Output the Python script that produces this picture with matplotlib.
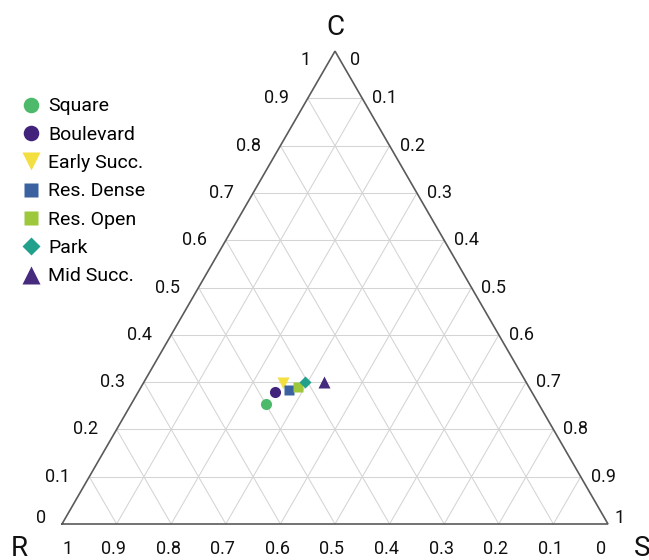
import numpy as np
import matplotlib
matplotlib.use("agg")
import matplotlib.pyplot as plt

plt.rcParams["font.family"] = ["Roboto", "DejaVu Sans"]

# ternary composition of each habitat (R, C, S)
habitats = ["Square", "Boulevard", "Early Succ.", "Res. Dense", "Res. Open", "Park", "Mid Succ."]
r_vals = [0.499, 0.469, 0.447, 0.443, 0.424, 0.405, 0.370]
c_vals = [0.254, 0.280, 0.298, 0.284, 0.289, 0.301, 0.301]
s_vals = [0.247, 0.251, 0.255, 0.273, 0.287, 0.294, 0.329]

markers = ["o", "o", "v", "s", "s", "D", "^"]
sizes = [8.0, 8.0, 9.2, 6.8, 6.8, 6.3, 8.9]
colors = ["#4db96b", "#41237b", "#f4df41", "#3a62a0", "#9dc83c", "#21a08c", "#452a7e"]

ticks = np.round(np.arange(0, 1.01, 0.1), 1)
tick_text = ["0" if t == 0 else "1" if t == 1 else "{:g}".format(t) for t in ticks]

H = np.sqrt(3) / 2
SIDE = 546.0  # triangle side in pixels


def to_xy(r, c, s):
    r, c, s = np.asarray(r), np.asarray(c), np.asarray(s)
    tot = r + c + s
    return (s + c / 2) / tot, (c * H) / tot


fig = plt.figure(figsize=(6.49, 5.6), dpi=100)
ax = fig.add_axes([0, 0, 1, 1])
ax.set_xlim(-62 / SIDE, 587 / SIDE)
ax.set_ylim(-36 / SIDE, 524 / SIDE)
ax.axis("off")

grid_kw = dict(color="#d4d4d4", lw=0.75, zorder=1)
for t in ticks[1:-1]:
    # C constant (horizontal)
    ax.plot([t / 2, 1 - t / 2], [t * H, t * H], **grid_kw)
    # S constant (parallel to left edge)
    ax.plot([t, t + (1 - t) / 2], [0, (1 - t) * H], **grid_kw)
    # R constant (parallel to right edge)
    ax.plot([1 - t, (1 - t) / 2], [0, (1 - t) * H], **grid_kw)

ax.plot([0, 1, 0.5, 0], [0, 0, H, 0], color="#5a5a5a", lw=1.2, zorder=2,
        solid_joinstyle="miter")

for name, r, c, s, m, ms, col in zip(habitats, r_vals, c_vals, s_vals, markers, sizes, colors):
    x, y = to_xy(r, c, s)
    ax.plot([x], [y], ls="none", marker=m, ms=ms, color=col, mec="none",
            label=name, zorder=3)

tick_kw = dict(textcoords="offset pixels", fontsize=13, color="#111111")
for t, lab in zip(ticks, tick_text):
    # left edge: C
    tc = np.clip(t, 0.013, 0.982)
    ax.annotate(lab, (tc / 2, tc * H), xytext=(-19, 0), ha="right", va="center", **tick_kw)
    # right edge: S
    ts = np.clip(t, 0.018, 0.987)
    ax.annotate(lab, (0.5 + ts / 2, (1 - ts) * H), xytext=(10, 0), ha="left", va="center", **tick_kw)
    # bottom edge: R (1 at left)
    tr = np.clip(1 - t, 0.015, 0.993)
    ax.annotate(lab, (tr, 0), xytext=(-3, -25), ha="center", va="center", **tick_kw)

lab_kw = dict(textcoords="offset pixels", fontsize=20, ha="center", va="center", color="#111111")
ax.annotate("C", (0.5, H), xytext=(0, 24), **lab_kw)
ax.annotate("R", (0, 0), xytext=(-43, -24), **lab_kw)
ax.annotate("S", (1, 0), xytext=(34, -24), **lab_kw)

leg = ax.legend(loc="upper left", bbox_to_anchor=(21.3 / 649, 1 - 97.5 / 560),
                frameon=False, fontsize=14, markerscale=1.4, handlelength=1.0,
                handletextpad=0.38, borderpad=0, borderaxespad=0, labelspacing=0.53,
                numpoints=1)

fig.savefig("out.png", dpi=100)
